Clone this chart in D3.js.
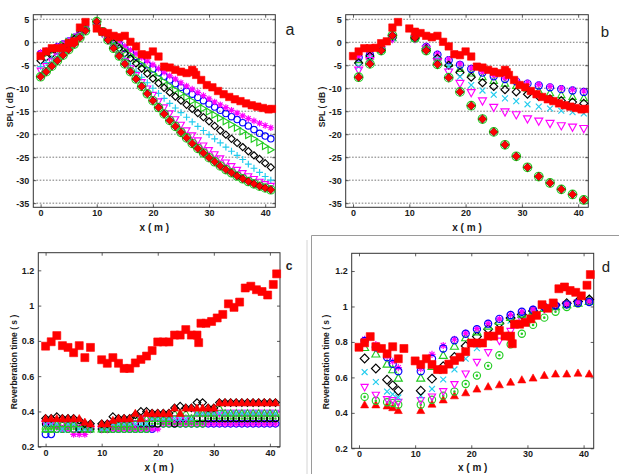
<!DOCTYPE html>
<html>
<head>
<meta charset="utf-8">
<script src="https://cdn.jsdelivr.net/npm/d3@7"></script>
<style>
  body { margin: 0; background: #fff; }
  svg { display: block; font-family: "Liberation Sans", Arial, sans-serif; }
</style>
</head>
<body>
<svg id="chart" width="619" height="474"></svg>
<script>
/*********************
***** DATA *****
*********************/

// measured positions (red squares), shared by all four panels
const redX = [0,1,2,3,4,5,6,7,8, 10,11,12,13,14,15,16,17,18,19,20,21,22,23,24,25,26,27,
  27.3,27.7, 28.6,29.6,30.6,31.6,32.6,33.6,34.6,35.6,36.6,37.6,38.6,39.6,40.6, 41.2];
const redSPL = [-3.0,-2.0,-1.3,-1.3,-1.2,-0.2,0.2,3.2,4.4,
  3.0,2.3,2.0,1.4,1.1,1.4,0.1,-0.9,-2.6,-2.8,-2.0,-3.1,-5.3,-5.5,-6.0,-6.4,-6.7,-6.0,
  -6.5,-7.1, -8.2,-9.3,-9.8,-10.6,-11.3,-11.9,-12.4,-12.8,-13.3,-13.7,-14.0,-14.3,-14.6, -14.5];
const redRT = [0.77,0.795,0.83,0.773,0.763,0.733,0.773,0.705,0.763,
  0.693,0.673,0.705,0.673,0.644,0.644,0.675,0.695,0.714,0.745,0.794,0.794,0.794,0.833,0.833,0.864,0.833,0.833,
  0.79,0.9, 0.9,0.91,0.93,0.95,1.01,0.99,1.02,1.1,1.11,1.09,1.08,1.06,1.12, 1.18];

// panel a / c positions (every metre, none at 9)
const fullX = [0,1,2,3,4,5,6,7,8, 10,11,12,13,14,15,16,17,18,19,20,21,22,23,24,25,26,27,28,29,30,31,32,33,34,35,36,37,38,39,40,41];

// panel a (SPL, dB)
const aStar = [-2.2,-1.8,-1.3,-0.8,-0.3,0.4,1.2,2.2,3.2,
  4.0,2.6,1.6,0.8,0.0,-0.9,-1.7,-2.5,-3.3,-4.1,-4.9,-5.7,-6.5,-7.3,-8.0,-8.8,-9.5,-10.2,-10.9,-11.6,-12.3,-13.0,-13.6,-14.2,-14.8,-15.4,-16.0,-16.6,-17.1,-17.6,-18.1,-18.6];
const aCircle = [-2.5,-2.0,-1.5,-1.0,-0.4,0.3,1.1,2.1,3.1,
  3.9,2.5,1.4,0.5,-0.4,-1.3,-2.2,-3.1,-4.0,-4.9,-5.8,-6.6,-7.4,-8.2,-9.0,-9.8,-10.6,-11.3,-12.0,-12.7,-13.4,-14.1,-14.8,-15.5,-16.2,-16.8,-17.5,-18.2,-19.0,-19.8,-20.4,-21.0];
const aTri = [-3.0,-2.5,-1.9,-1.3,-0.6,0.1,1.0,2.0,3.0,
  3.8,2.3,1.2,0.2,-0.8,-1.8,-2.8,-3.8,-4.8,-5.8,-6.8,-7.7,-8.6,-9.5,-10.4,-11.2,-12.0,-12.8,-13.6,-14.4,-15.1,-15.8,-16.5,-17.2,-17.9,-18.6,-19.4,-20.2,-21.0,-21.8,-22.6,-23.4];
const aDiamond = [-4.0,-3.3,-2.6,-1.9,-1.1,-0.3,0.7,1.8,2.9,
  3.8,2.1,0.9,-0.2,-1.3,-2.4,-3.5,-4.6,-5.7,-6.8,-7.9,-8.9,-9.9,-10.9,-11.8,-12.7,-13.6,-14.5,-15.4,-16.3,-17.2,-18.2,-19.2,-20.1,-21.0,-21.9,-22.8,-23.7,-24.6,-25.4,-26.3,-27.2];
const aPlus = [-5.3,-4.4,-3.5,-2.6,-1.7,-0.7,0.4,1.6,2.8,
  3.7,1.8,0.3,-1.1,-2.4,-3.7,-5.0,-6.3,-7.6,-8.8,-10.0,-11.1,-12.2,-13.3,-14.3,-15.3,-16.3,-17.3,-18.3,-19.2,-20.1,-21.0,-21.9,-22.8,-23.7,-24.6,-25.5,-26.5,-27.4,-28.3,-29.2,-30.0];
const aTriDown = [-6.2,-5.2,-4.2,-3.1,-2.0,-0.9,0.2,1.4,2.7,
  3.6,1.9,0.4,-1.1,-2.7,-4.2,-5.7,-7.2,-8.7,-10.1,-11.5,-12.9,-14.2,-15.5,-16.8,-18.0,-19.2,-20.3,-21.4,-22.5,-23.5,-24.4,-25.3,-26.2,-27.0,-27.8,-28.5,-29.2,-29.8,-30.4,-30.9,-31.3];
const aRedDiamond = [-7.5,-6.4,-5.2,-4.0,-2.8,-1.6,-0.4,1.0,2.5,
  4.5,2.3,0.5,-1.3,-3.0,-4.7,-6.4,-8.0,-9.6,-11.2,-12.7,-14.2,-15.6,-17.0,-18.3,-19.6,-20.8,-22.0,-23.1,-24.1,-25.1,-26.0,-26.9,-27.7,-28.4,-29.1,-29.7,-30.3,-30.8,-31.3,-31.7,-32.1];

// panel b positions and SPL (dB)
const bX = [1,3,5,7, 11,13,15,17,19,21,23,25,27,29,31,33,35,37,39,41];
const bStar     = [-3.1,-2.5,-1.2,1.3, 1.2,-0.8,-2.5,-3.7,-4.7,-5.6,-6.4,-7.2,-7.8,-8.3,-8.8,-9.2,-9.6,-10.0,-10.3,-10.6];
const bCircle   = [-3.3,-2.7,-1.3,1.2, 1.1,-1.0,-2.7,-3.9,-4.9,-5.8,-6.6,-7.4,-8.0,-8.5,-9.0,-9.4,-9.8,-10.2,-10.5,-10.8];
const bTri      = [-3.8,-3.0,-1.5,1.0, 0.9,-1.4,-3.2,-4.6,-5.7,-6.7,-7.5,-8.3,-8.9,-9.4,-10.0,-10.5,-11.0,-11.4,-11.8,-12.1];
const bDiamond  = [-4.5,-3.0,-1.5,1.0, 0.9,-1.4,-3.5,-5.0,-6.6,-7.6,-8.8,-9.6,-10.3,-10.8,-11.3,-11.8,-12.3,-12.7,-13.0,-13.3];
const bCross    = [-5.3,-3.5,-1.6,0.9, 0.8,-1.5,-3.8,-5.3,-7.5,-9.3,-10.5,-11.4,-12.2,-12.8,-13.5,-14.0,-14.4,-14.9,-15.2,-15.5];
const bTriDown  = [-6.1,-4.0,-1.7,0.8, 0.8,-1.6,-4.3,-6.5,-9.0,-11.0,-12.8,-14.2,-15.2,-15.8,-16.7,-17.2,-17.7,-18.2,-18.5,-18.8];
const bRedDiamond = [-7.6,-4.7,-1.8,1.5, 1.0,-1.8,-4.8,-7.7,-10.8,-13.8,-16.7,-19.5,-22.3,-24.8,-27.2,-29.2,-30.6,-32.0,-33.1,-34.3];

// panel c reverberation time (s), at fullX
const cStar     = [0.33,0.33,0.31,0.3,0.3,0.27,0.27,0.27,0.3,
  0.3,0.3,0.3,0.3,0.3,0.3,0.3,0.3,0.3,0.3,0.3,0.33,0.33,0.33,0.33,0.33,0.33,0.33,0.33,0.33,0.33,0.33,0.33,0.33,0.33,0.33,0.33,0.33,0.33,0.33,0.33,0.33];
const cCircle   = [0.27,0.27,0.3,0.3,0.3,0.3,0.3,0.3,0.3,
  0.3,0.3,0.3,0.3,0.3,0.3,0.3,0.3,0.3,0.3,0.33,0.33,0.33,0.33,0.33,0.33,0.33,0.33,0.33,0.33,0.33,0.33,0.33,0.33,0.33,0.33,0.33,0.33,0.33,0.33,0.33,0.33];
const cDotCircle = [0.3,0.3,0.3,0.3,0.3,0.3,0.3,0.3,0.3,
  0.3,0.3,0.3,0.3,0.3,0.3,0.3,0.3,0.3,0.33,0.33,0.33,0.33,0.33,0.33,0.33,0.33,0.33,0.33,0.36,0.36,0.36,0.36,0.36,0.36,0.36,0.36,0.36,0.36,0.36,0.36,0.36];
const cRing     = [0.33,0.33,0.33,0.33,0.33,0.33,0.3,0.3,0.3,
  0.3,0.3,0.33,0.33,0.33,0.33,0.33,0.33,0.33,0.33,0.33,0.36,0.36,0.33,0.36,0.36,0.36,0.36,0.36,0.36,0.36,0.36,0.36,0.36,0.36,0.36,0.36,0.36,0.36,0.36,0.36,0.36];
const cTriDown  = [0.33,0.33,0.33,0.33,0.33,0.33,0.33,0.3,0.3,
  0.3,0.3,0.33,0.33,0.33,0.33,0.33,0.36,0.36,0.36,0.36,0.36,0.36,0.36,0.36,0.36,0.36,0.39,0.39,0.39,0.39,0.39,0.39,0.39,0.39,0.39,0.39,0.39,0.39,0.39,0.39,0.39];
const cCross    = [0.33,0.33,0.33,0.3,0.33,0.33,0.3,0.3,0.3,
  0.3,0.3,0.33,0.33,0.33,0.33,0.33,0.33,0.33,0.36,0.36,0.36,0.36,0.36,0.36,0.36,0.36,0.39,0.39,0.39,0.39,0.39,0.39,0.39,0.39,0.39,0.39,0.39,0.39,0.39,0.39,0.39];
const cTri      = [0.3,0.3,0.33,0.33,0.33,0.33,0.33,0.3,0.3,
  0.3,0.3,0.33,0.33,0.33,0.33,0.36,0.36,0.36,0.36,0.36,0.36,0.36,0.39,0.39,0.39,0.36,0.39,0.39,0.39,0.39,0.42,0.39,0.39,0.39,0.39,0.39,0.39,0.39,0.39,0.39,0.39];
const cDiamond  = [0.36,0.36,0.37,0.36,0.36,0.36,0.35,0.33,0.33,
  0.33,0.33,0.37,0.36,0.36,0.36,0.38,0.4,0.4,0.39,0.39,0.39,0.39,0.42,0.43,0.42,0.42,0.45,0.45,0.42,0.42,0.45,0.45,0.45,0.45,0.45,0.45,0.45,0.45,0.45,0.45,0.45];
const cRedTri   = [0.36,0.36,0.36,0.36,0.36,0.36,0.36,0.34,0.33,
  0.33,0.33,0.35,0.36,0.36,0.36,0.39,0.36,0.39,0.39,0.39,0.39,0.39,0.42,0.39,0.42,0.42,0.42,0.42,0.42,0.42,0.45,0.45,0.45,0.45,0.45,0.45,0.45,0.45,0.45,0.45,0.45];

// panel d positions and reverberation time (s)
const dX = [1,3,5,6,7, 11,13,15,17,19,21,23,25,27,29,31,33,35,37,39,41];
const dStar     = [0.815,0.785,0.72,0.69,0.655, 0.65,0.73,0.78,0.815,0.85,0.875,0.905,0.93,0.955,0.97,0.985,1.0,1.01,1.015,1.025,1.03];
const dCircle   = [0.805,0.77,0.714,0.676,0.635, 0.635,0.705,0.763,0.809,0.846,0.872,0.903,0.93,0.952,0.97,0.982,0.998,1.005,1.012,1.02,1.025];
const dTri      = [0.77,0.733,0.676,0.644,0.597, 0.597,0.663,0.725,0.777,0.825,0.858,0.89,0.918,0.94,0.958,0.975,0.99,1.0,1.012,1.02,1.03];
const dDiamond  = [0.707,0.65,0.587,0.555,0.525, 0.525,0.593,0.663,0.715,0.777,0.83,0.872,0.905,0.935,0.955,0.975,0.995,1.008,1.018,1.028,1.04];
const dCross    = [0.63,0.574,0.52,0.505,0.487, 0.497,0.535,0.588,0.645,0.705,0.765,0.83,0.88,0.92,0.95,0.97,0.99,1.0,1.01,1.02,1.03];
const dTriDown  = [0.544,0.5,0.475,0.47,0.46, 0.47,0.49,0.52,0.56,0.62,0.685,0.74,0.805,0.86,0.92,0.955,0.985,1.0,1.01,1.02,1.03];
const dDotCircle = [0.49,0.468,0.46,0.455,0.446, 0.446,0.474,0.497,0.52,0.563,0.61,0.665,0.725,0.786,0.846,0.896,0.937,0.97,0.997,1.017,1.036];
const dRedTri   = [0.446,0.446,0.44,0.43,0.414, 0.414,0.45,0.474,0.497,0.514,0.535,0.548,0.559,0.574,0.587,0.597,0.612,0.62,0.62,0.625,0.62];

const xTicks = [0, 10, 20, 30, 40];
const splTicks = [5, 0, -5, -10, -15, -20, -25, -30, -35];
const rtTicks = [0.2, 0.4, 0.6, 0.8, 1, 1.2];

/*********************
***** COLOURS *****
*********************/
const RED = "#ff0000", MAG = "#ff00ff", BLUE = "#0000ff", GREEN = "#22cc22",
      CYAN = "#22ccee", BLACK = "#000000";

/*********************
***** MARKERS *****
*********************/
function markerPath(type, s) {
  const t = s * 0.7;
  switch (type) {
    case "square":   return `M${-s},${-s}H${s}V${s}H${-s}Z`;
    case "diamond":  return `M0,${-s}L${s},0L0,${s}L${-s},0Z`;
    case "triUp":    return `M0,${-s}L${s},${s*0.8}L${-s},${s*0.8}Z`;
    case "triDown":  return `M0,${s}L${s},${-s*0.8}L${-s},${-s*0.8}Z`;
    case "triRight": return `M${s},0L${-s*0.8},${-s}L${-s*0.8},${s}Z`;
    case "plus":     return `M${-s},0H${s}M0,${-s}V${s}`;
    case "times":    return `M${-t},${-t}L${t},${t}M${-t},${t}L${t},${-t}`;
    case "star":     return `M${-s},0H${s}M0,${-s}V${s}M${-t},${-t}L${t},${t}M${-t},${t}L${t},${-t}`;
    case "circle":   return `M${s},0A${s},${s} 0 1,1 ${-s},0A${s},${s} 0 1,1 ${s},0Z`;
    case "circleDot":
      return `M${s},0A${s},${s} 0 1,1 ${-s},0A${s},${s} 0 1,1 ${s},0Z` +
             `M0.7,0A0.7,0.7 0 1,1 -0.7,0A0.7,0.7 0 1,1 0.7,0Z`;
  }
}

/*********************
***** PANELS *****
*********************/
const panels = [
  { left: 33.3, top: 14.7, width: 242, height: 192.6, yDomain: [-35.9, 6], yTicks: splTicks, grid: true,
    letter: "a", letterPos: [290, 35], letterSize: 16, letterWeight: "normal",
    ylabel: "SPL ( dB )", ylabelPos: [13, 107], xlabelY: 230.5,
    series: [
      { x: fullX, y: aCircle, type: "circle", color: BLUE, s: 3.2 },
      { x: fullX, y: aStar, type: "star", color: MAG, s: 3.3 },
      { x: fullX, y: aTri, type: "triRight", color: GREEN, s: 3.4 },
      { x: fullX, y: aDiamond, type: "diamond", color: BLACK, s: 3.6 },
      { x: fullX, y: aPlus, type: "plus", color: CYAN, s: 3.4 },
      { x: fullX, y: aTriDown, type: "triDown", color: MAG, s: 3.4 },
      { x: fullX, y: aRedDiamond, type: "circleDot", color: GREEN, s: 4.2 },
      { x: fullX, y: aRedDiamond, type: "diamond", color: RED, fill: RED, edge: "#400", s: 4 },
      { x: redX, y: redSPL, type: "square", color: RED, fill: RED, s: 3.7 }
    ] },
  { left: 345.7, top: 14.7, width: 242.6, height: 192.6, yDomain: [-35.9, 6], yTicks: splTicks, grid: true,
    letter: "b", letterPos: [605, 37], letterSize: 15, letterWeight: "normal",
    ylabel: "SPL ( dB )", ylabelPos: [325, 107], xlabelY: 230.5,
    series: [
      { x: bX, y: bTri, type: "triUp", color: GREEN, s: 3.6 },
      { x: bX, y: bCircle, type: "circle", color: BLUE, s: 3.6 },
      { x: bX, y: bStar, type: "star", color: MAG, s: 3.3 },
      { x: bX, y: bDiamond, type: "diamond", color: BLACK, s: 4 },
      { x: bX, y: bCross, type: "times", color: CYAN, s: 4.2 },
      { x: bX, y: bTriDown, type: "triDown", color: MAG, s: 4 },
      { x: bX, y: bRedDiamond, type: "circleDot", color: GREEN, s: 4.3 },
      { x: bX, y: bRedDiamond, type: "diamond", color: RED, fill: RED, edge: "#400", s: 4.2 },
      { x: redX, y: redSPL, type: "square", color: RED, fill: RED, s: 3.7 }
    ] },
  { left: 38.3, top: 252.7, width: 241.7, height: 194, yDomain: [0.2, 1.3], yTicks: rtTicks, grid: false,
    letter: "c", letterPos: [289, 269.5], letterSize: 12, letterWeight: "bold",
    ylabel: "Reverberation time ( s )", ylabelPos: [17, 362], xlabelY: 470.5,
    series: [
      { x: fullX, y: cCircle, type: "circle", color: BLUE, s: 3.4 },
      { x: fullX, y: cStar, type: "star", color: MAG, s: 3.4 },
      { x: fullX, y: cDotCircle, type: "circleDot", color: GREEN, s: 3.4 },
      { x: fullX, y: cRing, type: "circle", color: BLACK, s: 3.2 },
      { x: fullX, y: cTriDown, type: "triDown", color: MAG, s: 3.6 },
      { x: fullX, y: cCross, type: "times", color: CYAN, s: 4 },
      { x: fullX, y: cTri, type: "triUp", color: GREEN, s: 3.6 },
      { x: fullX, y: cDiamond, type: "diamond", color: BLACK, s: 3.8 },
      { x: fullX, y: cRedTri, type: "triUp", color: RED, fill: RED, s: 4 },
      { x: redX, y: redRT, type: "square", color: RED, fill: RED, s: 4 }
    ] },
  { left: 351.7, top: 253.3, width: 242, height: 195, yDomain: [0.2, 1.3], yTicks: rtTicks, grid: false,
    letter: "d", letterPos: [606, 271.5], letterSize: 15, letterWeight: "normal",
    ylabel: "Reverberation time ( s )", ylabelPos: [329, 362], xlabelY: 471,
    series: [
      { x: dX, y: dRedTri, type: "triUp", color: RED, fill: RED, s: 4 },
      { x: dX, y: dDotCircle, type: "circleDot", color: GREEN, s: 3.6 },
      { x: dX, y: dTriDown, type: "triDown", color: MAG, s: 3.6 },
      { x: dX, y: dCross, type: "times", color: CYAN, s: 4.2 },
      { x: dX, y: dDiamond, type: "diamond", color: BLACK, s: 4.4 },
      { x: dX, y: dTri, type: "triUp", color: GREEN, s: 4 },
      { x: dX, y: dStar, type: "star", color: MAG, s: 3.6 },
      { x: dX, y: dCircle, type: "circle", color: BLUE, s: 3.6 },
      { x: redX, y: redRT, type: "square", color: RED, fill: RED, s: 4 }
    ] }
];

const svg = d3.select("#chart");

// frame lines around panel d
svg.append("line").attr("x1", 307).attr("x2", 307).attr("y1", 240).attr("y2", 474)
  .attr("stroke", "#d4d4d4").attr("stroke-width", 1);
svg.append("path").attr("d", "M311.5,474V235.5H619")
  .attr("fill", "none").attr("stroke", "#9a9a9a").attr("stroke-width", 1);

panels.forEach(p => {
  const xScale = d3.scaleLinear().domain([-1.3, 41.8]).range([p.left, p.left + p.width]);
  const yScale = d3.scaleLinear().domain(p.yDomain).range([p.top + p.height, p.top]);
  const g = svg.append("g");

  // gridlines
  if (p.grid) {
    g.append("g").selectAll("line")
      .data(p.yTicks)
      .enter().append("line")
      .attr("x1", p.left).attr("x2", p.left + p.width)
      .attr("y1", d => yScale(d)).attr("y2", d => yScale(d))
      .attr("stroke", "#555").attr("stroke-width", 0.8)
      .attr("stroke-dasharray", "1.6,1.6");
  }

  // axes: MATLAB style, ticks pointing inward on all four sides
  const fmt = d => String(d);
  const styleAxis = sel => {
    sel.select(".domain").remove();
    sel.selectAll(".tick line").attr("stroke", "#333").attr("stroke-width", 0.8);
    sel.selectAll(".tick text").attr("fill", "#1a1a1a")
      .style("font-size", "9px").style("font-weight", "bold")
      .style("font-family", "'Liberation Sans', Arial, sans-serif");
  };
  g.append("g").attr("transform", `translate(0,${p.top + p.height})`)
    .call(d3.axisBottom(xScale).tickValues(xTicks).tickSize(-3).tickPadding(2.5).tickFormat(fmt))
    .call(styleAxis);
  g.append("g").attr("transform", `translate(0,${p.top})`)
    .call(d3.axisTop(xScale).tickValues(xTicks).tickSize(-3).tickFormat(""))
    .call(styleAxis);
  g.append("g").attr("transform", `translate(${p.left},0)`)
    .call(d3.axisLeft(yScale).tickValues(p.yTicks).tickSize(-3).tickPadding(4).tickFormat(fmt))
    .call(styleAxis);
  g.append("g").attr("transform", `translate(${p.left + p.width},0)`)
    .call(d3.axisRight(yScale).tickValues(p.yTicks).tickSize(-3).tickFormat(""))
    .call(styleAxis);

  g.append("rect")
    .attr("x", p.left).attr("y", p.top).attr("width", p.width).attr("height", p.height)
    .attr("fill", "none").attr("stroke", "#333").attr("stroke-width", 1);

  // markers
  p.series.forEach(s => {
    const pts = s.x.map((xv, i) => [xv, s.y[i]]);
    g.append("g").selectAll("path")
      .data(pts)
      .enter().append("path")
      .attr("transform", d => `translate(${xScale(d[0])},${yScale(d[1])})`)
      .attr("d", markerPath(s.type, s.s))
      .attr("fill", s.fill || "none")
      .attr("stroke", s.edge || s.color)
      .attr("stroke-width", s.fill ? 0.6 : 1.15);
  });

  // labels
  g.append("text")
    .attr("x", p.left + p.width / 2).attr("y", p.xlabelY)
    .attr("text-anchor", "middle")
    .style("font-size", "10px").style("font-weight", "bold").attr("fill", "#1a1a1a")
    .text("x ( m )");
  g.append("text")
    .attr("transform", `translate(${p.ylabelPos[0]},${p.ylabelPos[1]}) rotate(-90)`)
    .attr("text-anchor", "middle")
    .style("font-size", "8.5px").style("font-weight", "bold").attr("fill", "#1a1a1a")
    .text(p.ylabel);
  g.append("text")
    .attr("x", p.letterPos[0]).attr("y", p.letterPos[1])
    .attr("text-anchor", "middle")
    .style("font-size", p.letterSize + "px").style("font-weight", p.letterWeight).attr("fill", "#222")
    .text(p.letter);
});
</script>
</body>
</html>
